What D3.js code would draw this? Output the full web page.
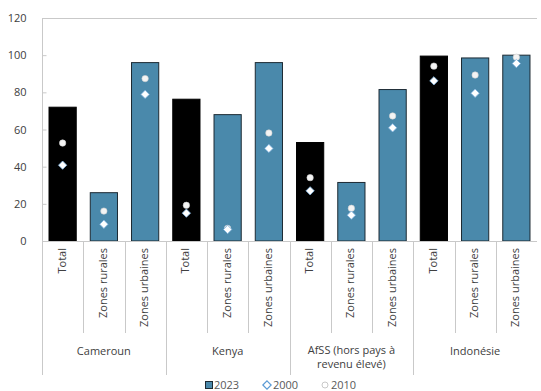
<!DOCTYPE html>
<html>
<head>
<meta charset="utf-8">
<script src="https://cdn.jsdelivr.net/npm/d3@7"></script>
<style>
  body { margin: 0; background: #fff; }
  svg { display: block; font-family: "Open Sans", "Noto Sans", sans-serif; }
</style>
</head>
<body>
<svg id="chart" width="541" height="391"></svg>
<script>
// Groups and their sub-categories
const groups = ["Cameroun", "Kenya", "AfSS (hors pays à revenu élevé)", "Indonésie"];
const groupLines = [["Cameroun"], ["Kenya"], ["AfSS (hors pays à", "revenu élevé)"], ["Indonésie"]];
const subCats = ["Total", "Zones rurales", "Zones urbaines"];

// Values per bar, in group order (Total, rural, urban)
const values2023 = [72, 26, 96, 76.3, 68, 96, 53, 31.5, 81.5, 99.5, 98.5, 100];
const values2000 = [40.8, 9, 78.9, 15, 6.2, 49.8, 27, 13.9, 60.9, 86.2, 79.5, 95.5];
const values2010 = [52.7, 16.1, 87.4, 19.2, 6.8, 58.1, 34.1, 17.6, 67.3, 94.1, 89.3, 98.9];
const yTicks = [0, 20, 40, 60, 80, 100, 120];

const rows = [];
groups.forEach((g, gi) => subCats.forEach((s, si) => {
  const i = gi * 3 + si;
  rows.push({ id: i, group: g, sub: s, v23: values2023[i], v00: values2000[i], v10: values2010[i] });
}));

const svg = d3.select("#chart");
const plotLeft = 42, plotRight = 537, plotTop = 18, plotBottom = 241;

const x = d3.scaleBand().domain(rows.map(d => d.id)).range([plotLeft, plotRight]).paddingInner(0.34).paddingOuter(0.17);
const xStep = d3.scaleBand().domain(rows.map(d => d.id)).range([plotLeft, plotRight]);
const y = d3.scaleLinear().domain([0, 120]).range([plotBottom, plotTop]);

const axisCol = "#c9c9c9";
const textCol = "#404040";
const blue = "#4a89ab";

// Top frame line
svg.append("line").attr("x1", plotLeft).attr("x2", plotRight).attr("y1", plotTop + 0.5).attr("y2", plotTop + 0.5)
  .attr("stroke", axisCol).attr("stroke-width", 1);

// Y axis (short inner ticks)
const yAxis = svg.append("g").attr("transform", `translate(${plotLeft + 0.5},0)`)
  .call(d3.axisLeft(y).tickValues(yTicks).tickSize(-4).tickPadding(16));
yAxis.select(".domain").remove();
yAxis.selectAll(".tick line").attr("stroke", axisCol);
yAxis.selectAll("text").attr("font-size", 11).attr("fill", textCol)
  .attr("font-family", "'Open Sans', 'Noto Sans', sans-serif");

// Bars
svg.append("g").selectAll("rect").data(rows).join("rect")
  .attr("x", d => x(d.id))
  .attr("y", d => y(d.v23))
  .attr("width", x.bandwidth())
  .attr("height", d => y(0) - y(d.v23))
  .attr("fill", d => d.sub === "Total" ? "#000" : blue)
  .attr("stroke", d => d.sub === "Total" ? "#000" : "#1d2a33")
  .attr("stroke-width", 1);

// 2010 circles
svg.append("g").selectAll("circle").data(rows).join("circle")
  .attr("cx", d => x(d.id) + x.bandwidth() / 2)
  .attr("cy", d => y(d.v10))
  .attr("r", 3.2)
  .attr("fill", "#f4f4f4")
  .attr("stroke", "#d0d0d0")
  .attr("stroke-width", 0.6);

// 2000 diamonds
const diamond = d3.symbol().type(d3.symbolDiamond2).size(44);
svg.append("g").selectAll("path").data(rows).join("path")
  .attr("transform", d => `translate(${x(d.id) + x.bandwidth() / 2},${y(d.v00)})`)
  .attr("d", diamond)
  .attr("fill", "#fff")
  .attr("stroke", "#7fb2e0")
  .attr("stroke-width", 0.8);

// Category axis lines
const axisG = svg.append("g");
axisG.append("line").attr("x1", plotLeft).attr("x2", plotRight).attr("y1", plotBottom + 0.5).attr("y2", plotBottom + 0.5)
  .attr("stroke", axisCol);
axisG.append("line").attr("x1", plotLeft + 0.5).attr("x2", plotLeft + 0.5).attr("y1", plotTop).attr("y2", 375)
  .attr("stroke", axisCol);
rows.forEach((d, i) => {
  if (i === 0) return;
  const xx = Math.round(xStep(d.id)) + 0.5;
  const isGroup = i % 3 === 0;
  axisG.append("line").attr("x1", xx).attr("x2", xx)
    .attr("y1", plotBottom).attr("y2", isGroup ? 375 : 333)
    .attr("stroke", axisCol);
});

// Sub-category labels (rotated)
svg.append("g").selectAll("text").data(rows).join("text")
  .attr("transform", d => `translate(${xStep(d.id) + xStep.bandwidth() / 2 + 3},248) rotate(-90)`)
  .attr("text-anchor", "end")
  .attr("font-size", 11)
  .attr("fill", textCol)
  .text(d => d.sub);

// Group labels
groups.forEach((g, gi) => {
  const x0 = xStep(gi * 3), x1 = xStep(gi * 3 + 2) + xStep.bandwidth();
  const lines = groupLines[gi];
  const t = svg.append("text")
    .attr("x", (x0 + x1) / 2)
    .attr("y", lines.length > 1 ? 354 : 355)
    .attr("text-anchor", "middle")
    .attr("font-size", 11)
    .attr("fill", textCol);
  lines.forEach((l, li) => t.append("tspan").attr("x", (x0 + x1) / 2).attr("dy", li === 0 ? 0 : 14).text(l));
});

// Legend
const leg = svg.append("g").attr("font-size", 11).attr("fill", "#595959");
leg.append("rect").attr("x", 205.5).attr("y", 381.5).attr("width", 7).attr("height", 7)
  .attr("fill", blue).attr("stroke", "#1d2a33");
leg.append("text").attr("x", 214).attr("y", 389).text("2023");
leg.append("path").attr("transform", "translate(267,385)").attr("d", diamond)
  .attr("fill", "#fff").attr("stroke", "#5b9bd5").attr("stroke-width", 1.2);
leg.append("text").attr("x", 273).attr("y", 389).text("2000");
leg.append("circle").attr("cx", 325).attr("cy", 385).attr("r", 3)
  .attr("fill", "#fff").attr("stroke", "#c8c8c8");
leg.append("text").attr("x", 331).attr("y", 389).text("2010");
</script>
</body>
</html>
